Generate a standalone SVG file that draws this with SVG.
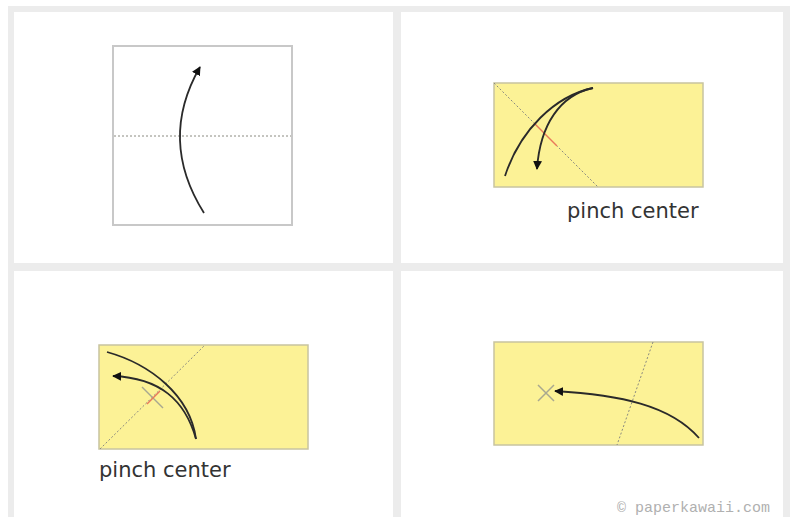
<svg xmlns="http://www.w3.org/2000/svg" width="793" height="517" viewBox="0 0 793 517">
  <defs>
    <marker id="ah" viewBox="0 0 10 10" refX="9" refY="5" markerWidth="9" markerHeight="9" markerUnits="userSpaceOnUse" orient="auto">
      <path d="M0,0 L10,5 L0,10 Z" fill="#111"/>
    </marker>
    <style>
      .panel { fill: #ffffff; }
      .paper { fill: #fcf296; stroke: #c8c4a0; stroke-width: 1.5; }
      .sq { fill: #ffffff; stroke: #c8c8c8; stroke-width: 2; }
      .fold { fill: none; stroke: #8a8a80; stroke-width: 1; stroke-dasharray: 2 2; }
      .pinch { fill: none; stroke: #e8795a; stroke-width: 1.5; }
      .mark { fill: none; stroke: #a8a890; stroke-width: 1.5; }
      .arrow { fill: none; stroke: #2a2a2a; stroke-width: 1.8; }
      .lbl { font-family: "DejaVu Sans", Verdana, sans-serif; font-size: 21px; fill: #333333; }
      .copy { font-family: "Liberation Mono", "Courier New", monospace; font-size: 15px; fill: #b0b0b0; }
    </style>
  </defs>

  <rect x="0" y="0" width="793" height="517" fill="#ffffff"/>
  <rect x="8" y="6" width="782" height="511" fill="#ececec"/>
  <rect class="panel" x="14" y="12" width="379" height="251"/>
  <rect class="panel" x="401" y="12" width="382" height="251"/>
  <rect class="panel" x="14" y="271" width="379" height="246"/>
  <rect class="panel" x="401" y="271" width="382" height="246"/>

  <g id="step1">
    <rect class="sq" x="113" y="46" width="179" height="179"/>
    <line class="fold" x1="114" y1="136" x2="291" y2="136"/>
  </g>

  <g id="step2">
    <rect class="paper" x="494" y="83" width="209" height="104"/>
    <line class="fold" x1="494" y1="83" x2="598" y2="187"/>
    <line class="pinch" x1="534" y1="123" x2="557" y2="146"/>
    <text class="lbl" x="567" y="218">pinch center</text>
  </g>

  <g id="step3">
    <rect class="paper" x="99" y="345" width="209" height="104"/>
    <line class="fold" x1="100" y1="449" x2="205" y2="345"/>
    <line class="mark" x1="142" y1="387" x2="163" y2="408"/>
    <line class="pinch" x1="147" y1="404" x2="160" y2="391"/>
    <text class="lbl" x="99" y="477">pinch center</text>
  </g>

  <g id="step4">
    <rect class="paper" x="494" y="342" width="209" height="103"/>
    <line class="fold" x1="653" y1="342" x2="617" y2="445"/>
    <path class="mark" d="M538,385 L554,401 M554,385 L538,401"/>
  </g>

  <g id="connectors">
    <path class="arrow" d="M204,213 Q158,140 200,67" marker-end="url(#ah)"/>
    <path class="arrow" d="M505,176 C520,130 555,96 593,88"/>
    <path class="arrow" d="M593,88 C560,95 540,125 537,169" marker-end="url(#ah)"/>
    <path class="arrow" d="M107,352 C150,364 190,395 196,439"/>
    <path class="arrow" d="M196,439 C185,400 160,378 113,376" marker-end="url(#ah)"/>
    <path class="arrow" d="M699,438 C670,405 620,395 555,391" marker-end="url(#ah)"/>
  </g>

  <text class="copy" x="617" y="512">© paperkawaii.com</text>
</svg>
